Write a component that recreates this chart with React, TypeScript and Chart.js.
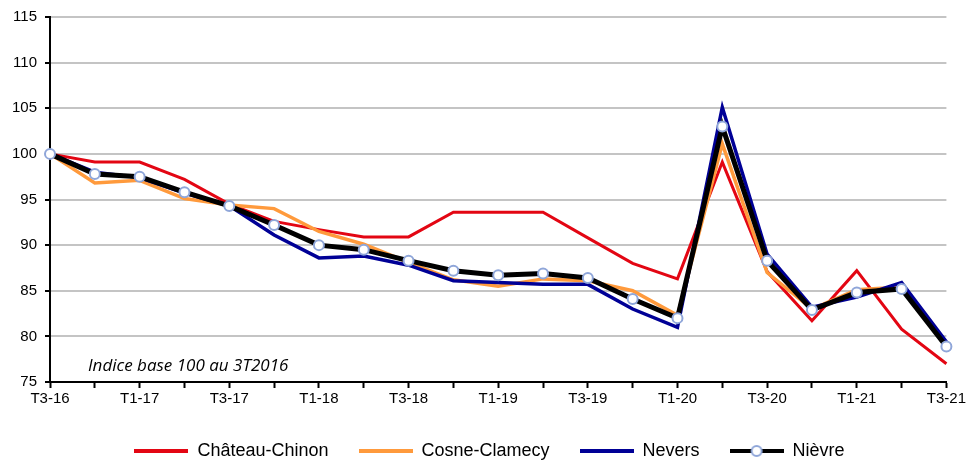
import React, { useEffect, useRef } from 'react';
import { Chart, registerables } from 'chart.js';

Chart.register(...registerables);

const quarters = [
  'T3-16', 'T4-16', 'T1-17', 'T2-17', 'T3-17', 'T4-17', 'T1-18', 'T2-18', 'T3-18', 'T4-18',
  'T1-19', 'T2-19', 'T3-19', 'T4-19', 'T1-20', 'T2-20', 'T3-20', 'T4-20', 'T1-21', 'T2-21', 'T3-21',
];

const chateauChinon = [100, 99.1, 99.1, 97.2, 94.5, 92.6, 91.7, 90.9, 90.9, 93.6, 93.6, 93.6, 90.8, 88.0, 86.3, 99.1, 87.1, 81.7, 87.2, 80.8, 77.0];
const cosneClamecy = [100, 96.8, 97.1, 95.1, 94.4, 94.0, 91.5, 90.1, 88.1, 86.2, 85.5, 86.3, 86.1, 85.0, 82.3, 101.1, 87.0, 83.0, 85.1, 85.4, 79.0];
const nevers = [100, 98.0, 97.4, 95.7, 94.3, 91.1, 88.6, 88.8, 87.8, 86.1, 85.9, 85.7, 85.7, 83.0, 81.0, 105.1, 89.0, 83.2, 84.3, 85.9, 79.4];
const nievre = [100, 97.8, 97.5, 95.8, 94.3, 92.2, 90.0, 89.5, 88.3, 87.2, 86.7, 86.9, 86.4, 84.1, 82.0, 103.0, 88.3, 82.9, 84.8, 85.2, 78.9];

const seriesNames = ['Château-Chinon', 'Cosne-Clamecy', 'Nevers', 'Nièvre'];
const annotationText = 'Indice base 100 au 3T2016';

const yMin = 75;
const yMax = 115;
const yStep = 5;

const RED = '#E30613';
const ORANGE = '#FF9A3C';
const BLUE = '#000096';
const BLACK = '#000000';
const MARKER_BORDER = '#8FA6D9';

export default function App() {
  const ref = useRef<HTMLCanvasElement>(null);

  useEffect(() => {
    document.body.style.margin = '0';
    document.body.style.overflow = 'hidden';
    const canvas = ref.current;
    if (!canvas) return;

    const makeLegendImg = (color: string, width: number, marker: boolean) => {
      const c = document.createElement('canvas');
      c.width = 54;
      c.height = 14;
      const g = c.getContext('2d')!;
      g.strokeStyle = color;
      g.lineWidth = width;
      g.beginPath();
      g.moveTo(0, 7);
      g.lineTo(54, 7);
      g.stroke();
      if (marker) {
        g.beginPath();
        g.arc(27, 7, 5, 0, Math.PI * 2);
        g.fillStyle = '#ffffff';
        g.fill();
        g.lineWidth = 2;
        g.strokeStyle = MARKER_BORDER;
        g.stroke();
      }
      return c;
    };
    const legendImgs = [
      makeLegendImg(RED, 4, false),
      makeLegendImg(ORANGE, 4, false),
      makeLegendImg(BLUE, 4, false),
      makeLegendImg(BLACK, 4, true),
    ];

    const annotationPlugin = {
      id: 'annotationText',
      afterDatasetsDraw(chart: any) {
        const { ctx, chartArea } = chart;
        ctx.save();
        ctx.font = 'italic 17px "Open Sans"';
        ctx.fillStyle = '#000';
        ctx.textBaseline = 'alphabetic';
        ctx.textAlign = 'left';
        ctx.fillText(annotationText, chartArea.left + 38, chartArea.bottom - 11);
        ctx.restore();
      },
    };

    const legendShift = {
      id: 'legendShift',
      afterLayout(chart: any) {
        if (chart.legend) {
          chart.legend.right += 30;
        }
      },
    };

    const chart = new Chart(canvas, {
      type: 'line',
      data: {
        labels: quarters,
        datasets: [
          {
            label: seriesNames[0],
            data: chateauChinon,
            borderColor: RED,
            backgroundColor: RED,
            borderWidth: 3,
            pointRadius: 0,
            order: 4,
          },
          {
            label: seriesNames[1],
            data: cosneClamecy,
            borderColor: ORANGE,
            backgroundColor: ORANGE,
            borderWidth: 3.5,
            pointRadius: 0,
            order: 3,
          },
          {
            label: seriesNames[2],
            data: nevers,
            borderColor: BLUE,
            backgroundColor: BLUE,
            borderWidth: 3.5,
            pointRadius: 0,
            order: 2,
          },
          {
            label: seriesNames[3],
            data: nievre,
            borderColor: BLACK,
            backgroundColor: '#ffffff',
            borderWidth: 5,
            pointRadius: 5,
            pointBorderWidth: 2,
            pointBorderColor: MARKER_BORDER,
            pointBackgroundColor: '#ffffff',
            order: 1,
          },
        ],
      },
      options: {
        responsive: false,
        animation: false,
        devicePixelRatio: 1,
        layout: { padding: { left: 0, right: 19, top: 17, bottom: -9 } },
        elements: { line: { tension: 0 } },
        scales: {
          x: {
            offset: false,
            afterFit(scale: any) {
              scale.height = 30;
            },
            border: { display: true, color: '#000', width: 2 },
            grid: {
              drawOnChartArea: false,
              drawTicks: true,
              tickLength: 6,
              tickColor: '#000',
              tickWidth: 2,
            },
            ticks: {
              autoSkip: false,
              maxRotation: 0,
              minRotation: 0,
              padding: 2,
              color: '#000',
              font: { family: '"Liberation Sans", Arial, sans-serif', size: 15 },
              callback: (_v: any, i: number) => (i % 2 === 0 ? quarters[i] : ''),
            },
          },
          y: {
            min: yMin,
            max: yMax,
            afterFit(scale: any) {
              scale.width = 50;
            },
            border: { display: true, color: '#000', width: 2 },
            grid: {
              color: '#C4C4C4',
              lineWidth: 2,
              drawTicks: true,
              tickLength: 5,
              tickColor: '#000',
              tickWidth: 2,
            },
            ticks: {
              stepSize: yStep,
              padding: 8,
              color: '#000',
              font: { family: '"Liberation Sans", Arial, sans-serif', size: 15 },
            },
          },
        },
        plugins: {
          tooltip: { enabled: false },
          legend: {
            display: true,
            position: 'bottom',
            labels: {
              usePointStyle: true,
              pointStyleWidth: 54,
              padding: 30,
              color: '#000',
              font: { family: '"Liberation Sans", Arial, sans-serif', size: 18 },
              sort: (a: any, b: any) => a.datasetIndex - b.datasetIndex,
              generateLabels: (ch: any) =>
                Chart.defaults.plugins.legend.labels.generateLabels(ch).map((l: any, i: number) => ({
                  ...l,
                  pointStyle: legendImgs[l.datasetIndex ?? i],
                })),
            },
          },
        },
      },
      plugins: [annotationPlugin, legendShift],
    } as any);

    return () => chart.destroy();
  }, []);

  return (
    <div style={{ width: 968, height: 461 }}>
      <canvas ref={ref} width={968} height={461} style={{ display: 'block', width: 968, height: 461 }} />
    </div>
  );
}
